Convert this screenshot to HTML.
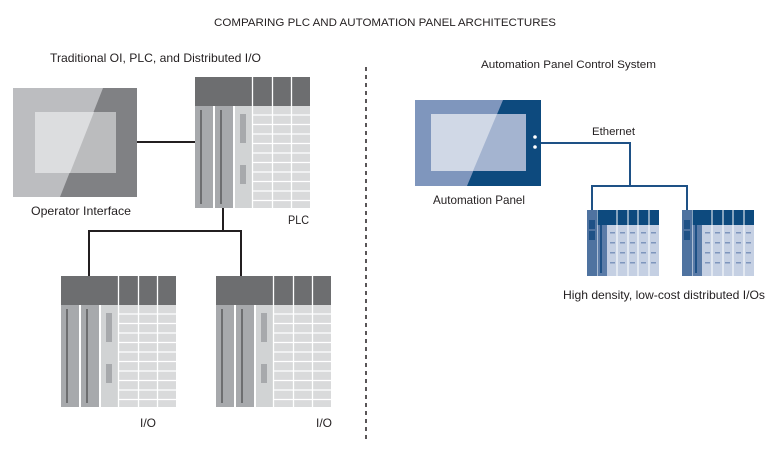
<!DOCTYPE html>
<html><head><meta charset="utf-8"><style>
html,body{margin:0;padding:0;background:#fff;}
svg{display:block;}
text{font-family:"Liberation Sans",sans-serif;fill:#231f20;}
</style></head><body>
<svg width="770" height="453" viewBox="0 0 770 453" xmlns="http://www.w3.org/2000/svg">
<defs>
<g id="rack">
  <rect x="0" y="0" width="115" height="131" fill="#fff"/>
  <rect x="0" y="29" width="18" height="102" fill="#a7a9ac"/>
  <rect x="5" y="33" width="2" height="94" fill="#6d6e70"/>
  <rect x="20" y="29" width="18" height="102" fill="#a7a9ac"/>
  <rect x="25" y="33" width="2" height="94" fill="#6d6e70"/>
  <rect x="40" y="29" width="17" height="102" fill="#d1d3d4"/>
  <rect x="45" y="37" width="6" height="29" fill="#a7a9ac"/>
  <rect x="45" y="88" width="6" height="19" fill="#a7a9ac"/>
  <rect x="58" y="29" width="19" height="102" fill="#d9dadb"/>
  <rect x="78" y="29" width="18" height="102" fill="#d9dadb"/>
  <rect x="97" y="29" width="18" height="102" fill="#d9dadb"/>
  <g stroke="#fff" stroke-width="1.3">
    <line x1="58" y1="38" x2="115" y2="38"/><line x1="58" y1="47.5" x2="115" y2="47.5"/>
    <line x1="58" y1="57" x2="115" y2="57"/><line x1="58" y1="66.5" x2="115" y2="66.5"/>
    <line x1="58" y1="76" x2="115" y2="76"/><line x1="58" y1="85.5" x2="115" y2="85.5"/>
    <line x1="58" y1="95" x2="115" y2="95"/><line x1="58" y1="104.5" x2="115" y2="104.5"/>
    <line x1="58" y1="114" x2="115" y2="114"/><line x1="58" y1="123.5" x2="115" y2="123.5"/>
  </g>
  <rect x="0" y="0" width="115" height="29" fill="#6d6e70"/>
  <g stroke="#fff" stroke-width="1.3">
    <line x1="57.5" y1="0" x2="57.5" y2="131"/><line x1="77.5" y1="0" x2="77.5" y2="131"/><line x1="96.5" y1="0" x2="96.5" y2="131"/>
  </g>
</g>
<g id="blue">
  <rect x="0" y="0" width="10" height="66" fill="#4f73a0"/>
  <rect x="2" y="10" width="6" height="9" fill="#1e5186"/>
  <rect x="2" y="21" width="6" height="9" fill="#1e5186"/>
  <rect x="10.5" y="0" width="10" height="66" fill="#5b7ca8"/>
  <rect x="13" y="15" width="2" height="48" fill="#1e5186"/>
  <rect x="20" y="15" width="52" height="51" fill="#c5d0e3"/>
  <rect x="10.5" y="0" width="61.5" height="15" fill="#0d4a7e"/>
  <g stroke="#fff" stroke-width="1">
    <line x1="30" y1="0" x2="30" y2="66"/><line x1="41" y1="0" x2="41" y2="66"/><line x1="51" y1="0" x2="51" y2="66"/><line x1="62" y1="0" x2="62" y2="66"/>
  </g>
  <g fill="#7f96bd">
    <rect x="23" y="22" width="5" height="1.5"/><rect x="33" y="22" width="5" height="1.5"/><rect x="43" y="22" width="5" height="1.5"/><rect x="54" y="22" width="5" height="1.5"/><rect x="64" y="22" width="5" height="1.5"/>
    <rect x="23" y="32" width="5" height="1.5"/><rect x="33" y="32" width="5" height="1.5"/><rect x="43" y="32" width="5" height="1.5"/><rect x="54" y="32" width="5" height="1.5"/><rect x="64" y="32" width="5" height="1.5"/>
    <rect x="23" y="42" width="5" height="1.5"/><rect x="33" y="42" width="5" height="1.5"/><rect x="43" y="42" width="5" height="1.5"/><rect x="54" y="42" width="5" height="1.5"/><rect x="64" y="42" width="5" height="1.5"/>
    <rect x="23" y="52" width="5" height="1.5"/><rect x="33" y="52" width="5" height="1.5"/><rect x="43" y="52" width="5" height="1.5"/><rect x="54" y="52" width="5" height="1.5"/><rect x="64" y="52" width="5" height="1.5"/>
  </g>
</g>
</defs>

<text x="385" y="26" font-size="11" text-anchor="middle" textLength="342" lengthAdjust="spacingAndGlyphs">COMPARING PLC AND AUTOMATION PANEL ARCHITECTURES</text>
<text x="50" y="62" font-size="12" textLength="211" lengthAdjust="spacingAndGlyphs">Traditional OI, PLC, and Distributed I/O</text>
<text x="481" y="68" font-size="11" textLength="175" lengthAdjust="spacingAndGlyphs">Automation Panel Control System</text>

<line x1="366" y1="67" x2="366" y2="440" stroke="#231f20" stroke-width="1.5" stroke-dasharray="4,4"/>

<!-- black connectors -->
<g stroke="#231f20" stroke-width="2" fill="none">
  <line x1="137" y1="142" x2="196" y2="142"/>
  <polyline points="223,208 223,231"/>
  <polyline points="89,277 89,231 241,231 241,277"/>
</g>

<!-- Operator interface -->
<rect x="13" y="88" width="124" height="109" fill="#808184"/>
<polygon points="13,88 103,88 60,197 13,197" fill="#bcbdc0"/>
<rect x="35" y="112" width="81" height="61" fill="#bbbcbe"/>
<polygon points="35,112 94,112 70,173 35,173" fill="#dcdddf"/>
<text x="31" y="215" font-size="12" textLength="100" lengthAdjust="spacingAndGlyphs">Operator Interface</text>

<use href="#rack" x="195" y="77"/>
<text x="288" y="224" font-size="12" textLength="21" lengthAdjust="spacingAndGlyphs">PLC</text>
<use href="#rack" x="61" y="276"/>
<use href="#rack" x="216" y="276"/>
<text x="140" y="427" font-size="12">I/O</text>
<text x="316" y="427" font-size="12">I/O</text>

<!-- Automation panel -->
<rect x="415" y="100" width="126" height="86" fill="#0d4a7e"/>
<polygon points="415,100 503,100 467,186 415,186" fill="#7f96bd"/>
<rect x="431" y="114" width="95" height="57" fill="#a4b4d0"/>
<polygon points="431,114 497,114 473,171 431,171" fill="#d0d8e6"/>
<circle cx="535" cy="137" r="1.8" fill="#fff"/>
<circle cx="535" cy="147" r="1.8" fill="#fff"/>
<text x="433" y="204" font-size="12" textLength="92" lengthAdjust="spacingAndGlyphs">Automation Panel</text>
<text x="592" y="135" font-size="11" textLength="43" lengthAdjust="spacingAndGlyphs">Ethernet</text>

<g stroke="#1e5186" stroke-width="2" fill="none">
  <polyline points="541,143 630,143 630,186"/>
  <polyline points="592,210 592,186 687,186 687,210"/>
</g>
<use href="#blue" x="587" y="210"/>
<use href="#blue" x="682" y="210"/>
<text x="563" y="299" font-size="12" textLength="202" lengthAdjust="spacingAndGlyphs">High density, low-cost distributed I/Os</text>
</svg>
</body></html>
